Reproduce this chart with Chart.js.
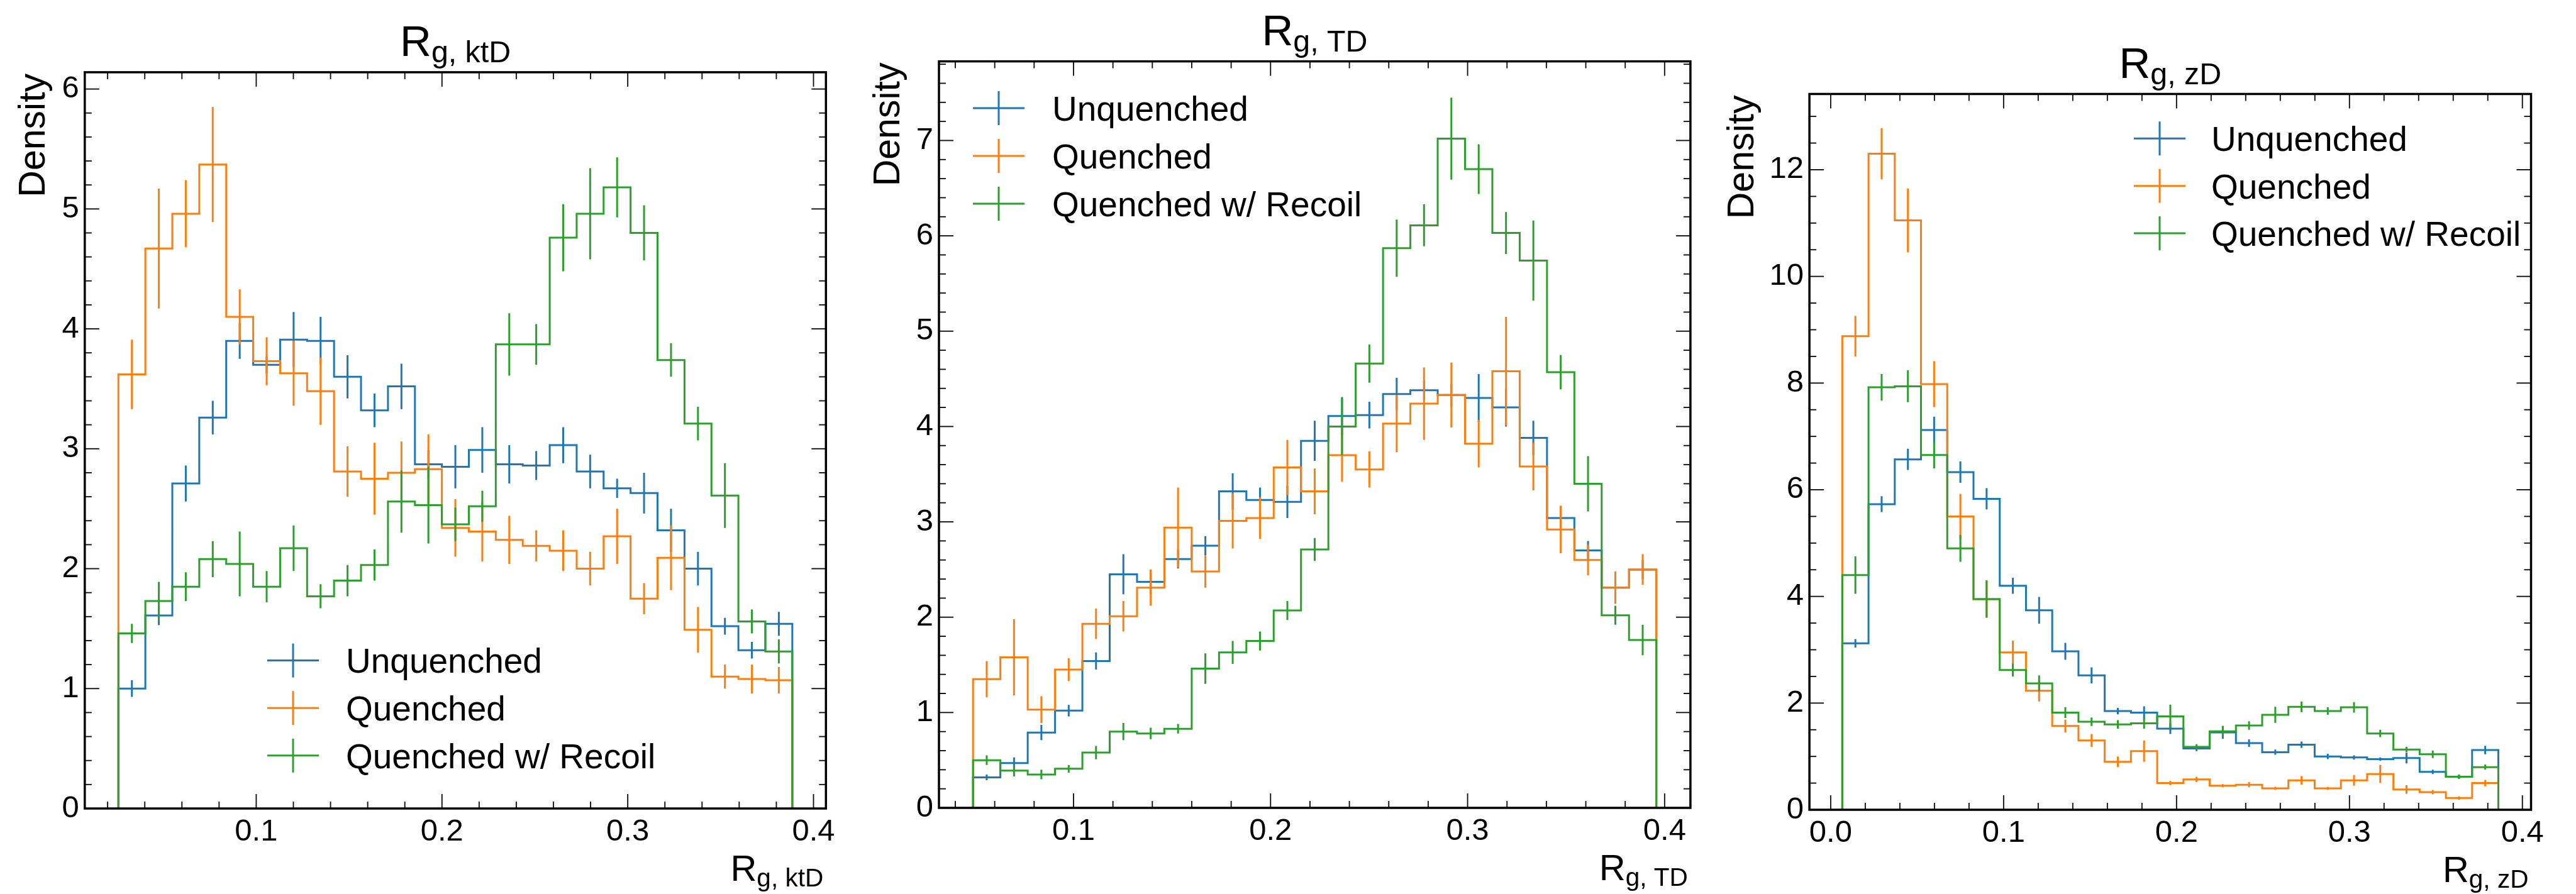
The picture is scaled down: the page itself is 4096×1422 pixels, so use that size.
<!DOCTYPE html>
<html>
<head>
<meta charset="utf-8">
<script src="https://cdn.jsdelivr.net/npm/chart.js@4.4.0/dist/chart.umd.min.js"></script>
<style>
  html, body { margin: 0; padding: 0; background: #fff; }
  body { width: 4096px; height: 1422px; position: relative; overflow: hidden; }
  canvas { position: absolute; left: 0; top: 0; }
</style>
</head>
<body>
<canvas id="ktChart" width="4096" height="1422"></canvas>
<canvas id="tdChart" width="4096" height="1422"></canvas>
<canvas id="zdChart" width="4096" height="1422"></canvas>
<script>
const seriesNames = ['Unquenched', 'Quenched', 'Quenched w/ Recoil']
const seriesColors = ['#1f77b4', '#ff7f0e', '#2ca02c']

// R_g,ktD : 25 bins between the lowest and highest value
const ktRange = [0.0258, 0.3886]
const ktUnq = [1.00, 1.61, 2.71, 3.26, 3.90, 3.70, 3.91, 3.90, 3.60, 3.32, 3.52, 2.87, 2.85, 2.99, 2.87, 2.86, 3.03, 2.81, 2.67, 2.63, 2.32, 2.00, 1.52, 1.32, 1.54]
const ktUnqErr = [0.07, 0.08, 0.15, 0.14, 0.15, 0.07, 0.23, 0.20, 0.18, 0.14, 0.19, 0.12, 0.18, 0.19, 0.16, 0.12, 0.15, 0.14, 0.08, 0.17, 0.18, 0.14, 0.07, 0.07, 0.10]
const ktQ = [3.62, 4.67, 4.96, 5.37, 4.10, 3.73, 3.63, 3.48, 2.81, 2.75, 2.80, 2.83, 2.34, 2.31, 2.24, 2.19, 2.15, 2.00, 2.27, 1.75, 2.09, 1.49, 1.10, 1.08, 1.07]
const ktQErr = [0.29, 0.50, 0.28, 0.48, 0.23, 0.20, 0.27, 0.28, 0.21, 0.30, 0.26, 0.29, 0.24, 0.25, 0.20, 0.13, 0.17, 0.14, 0.23, 0.13, 0.27, 0.19, 0.10, 0.12, 0.11]
const ktRec = [1.46, 1.73, 1.85, 2.08, 2.04, 1.85, 2.17, 1.77, 1.90, 2.03, 2.56, 2.53, 2.37, 2.52, 3.87, 3.87, 4.76, 4.96, 5.18, 4.80, 3.74, 3.21, 2.61, 1.56, 1.31]
const ktRecErr = [0.08, 0.16, 0.12, 0.15, 0.27, 0.13, 0.19, 0.10, 0.13, 0.13, 0.26, 0.32, 0.14, 0.13, 0.26, 0.17, 0.28, 0.38, 0.25, 0.23, 0.14, 0.14, 0.27, 0.10, 0.10]
const ktXTicks = [0.1, 0.2, 0.3, 0.4]
const ktYTicks = [0, 1, 2, 3, 4, 5, 6]

// R_g,TD
const tdRange = [0.049, 0.3958]
const tdUnq = [0.32, 0.47, 0.79, 1.02, 1.54, 2.45, 2.37, 2.61, 2.75, 3.32, 3.23, 3.21, 3.85, 4.11, 4.12, 4.34, 4.38, 4.33, 4.30, 4.20, 3.88, 3.04, 2.70, 2.31, 2.50]
const tdUnqErr = [0.03, 0.06, 0.08, 0.06, 0.09, 0.21, 0.13, 0.10, 0.10, 0.19, 0.13, 0.17, 0.21, 0.20, 0.14, 0.17, 0.10, 0.12, 0.25, 0.20, 0.18, 0.12, 0.10, 0.08, 0.10]
const tdQ = [1.35, 1.58, 1.03, 1.45, 1.93, 2.01, 2.31, 2.94, 2.48, 3.01, 3.04, 3.57, 3.32, 3.70, 3.55, 4.03, 4.24, 4.33, 3.82, 4.58, 3.58, 2.92, 2.60, 2.31, 2.50]
const tdQErr = [0.19, 0.40, 0.14, 0.12, 0.16, 0.16, 0.19, 0.42, 0.17, 0.29, 0.22, 0.29, 0.24, 0.28, 0.19, 0.30, 0.38, 0.34, 0.25, 0.57, 0.25, 0.25, 0.16, 0.17, 0.16]
const tdRec = [0.50, 0.39, 0.35, 0.41, 0.58, 0.80, 0.78, 0.83, 1.46, 1.63, 1.75, 2.07, 2.71, 4.00, 4.66, 5.87, 6.11, 7.02, 6.70, 6.03, 5.74, 4.57, 3.40, 2.02, 1.76]
const tdRecErr = [0.05, 0.06, 0.05, 0.04, 0.07, 0.09, 0.06, 0.05, 0.16, 0.12, 0.10, 0.10, 0.12, 0.30, 0.20, 0.30, 0.22, 0.43, 0.26, 0.22, 0.42, 0.18, 0.29, 0.10, 0.16]
const tdXTicks = [0.1, 0.2, 0.3, 0.4]
const tdYTicks = [0, 1, 2, 3, 4, 5, 6, 7]

// R_g,zD
const zdRange = [0.0067, 0.3861]
const zdUnq = [3.12, 5.73, 6.57, 7.12, 6.33, 5.83, 4.20, 3.74, 2.97, 2.52, 1.85, 1.82, 1.52, 1.15, 1.45, 1.25, 1.08, 1.22, 1.00, 0.98, 0.95, 0.97, 0.71, 0.62, 1.12]
const zdUnqErr = [0.08, 0.15, 0.20, 0.25, 0.20, 0.20, 0.15, 0.25, 0.16, 0.15, 0.06, 0.12, 0.10, 0.05, 0.12, 0.07, 0.05, 0.06, 0.05, 0.04, 0.03, 0.10, 0.04, 0.04, 0.08]
const zdQ = [8.88, 12.30, 11.05, 7.98, 5.50, 3.95, 2.95, 2.23, 1.57, 1.30, 0.90, 1.10, 0.50, 0.57, 0.45, 0.47, 0.40, 0.55, 0.40, 0.55, 0.67, 0.38, 0.33, 0.22, 0.50]
const zdQErr = [0.38, 0.48, 0.60, 0.43, 0.42, 0.35, 0.22, 0.20, 0.12, 0.12, 0.10, 0.20, 0.04, 0.05, 0.03, 0.05, 0.03, 0.08, 0.03, 0.10, 0.17, 0.08, 0.04, 0.03, 0.06]
const zdRec = [4.40, 7.92, 7.94, 6.65, 4.90, 3.95, 2.62, 2.37, 1.82, 1.65, 1.60, 1.62, 1.75, 1.18, 1.47, 1.58, 1.78, 1.93, 1.85, 1.92, 1.43, 1.13, 1.04, 0.62, 0.80]
const zdRecErr = [0.35, 0.25, 0.30, 0.25, 0.25, 0.35, 0.12, 0.15, 0.10, 0.08, 0.08, 0.10, 0.22, 0.05, 0.10, 0.08, 0.15, 0.10, 0.07, 0.10, 0.07, 0.05, 0.07, 0.04, 0.05]
const zdXTicks = [0.0, 0.1, 0.2, 0.3, 0.4]
const zdYTicks = [0, 2, 4, 6, 8, 10, 12]

const FONT = '"Liberation Sans", Arial, sans-serif'
Chart.defaults.font.family = FONT
Chart.defaults.color = '#000'

const AXIS_W = 80   // room left for y tick labels
const AXIS_H = 80   // room below for x tick labels

const panels = [
    {
        canvas: 'ktChart', range: ktRange,
        series: [ktUnq, ktQ, ktRec], errors: [ktUnqErr, ktQErr, ktRecErr],
        xTicks: ktXTicks, yTicks: ktYTicks, xMinor: 0.02, yMinor: 0.2,
        xLim: [0.0077, 0.4067], yMax: 6.14,
        sub: 'g, ktD',
        frame: { left: 134.8, right: 1313.3, top: 114.9, bottom: 1286 },
        yLabelX: 70.8,
        legend: { x0: 425, x1: 507, tx: 550, y0: 1050.6, dy: 75.6 }
    },
    {
        canvas: 'tdChart', range: tdRange,
        series: [tdUnq, tdQ, tdRec], errors: [tdUnqErr, tdQErr, tdRecErr],
        xTicks: tdXTicks, yTicks: tdYTicks, xMinor: 0.02, yMinor: 0.2,
        xLim: [0.0317, 0.4131], yMax: 7.83,
        sub: 'g, TD',
        frame: { left: 1493.0, right: 2687.9, top: 97.6, bottom: 1285 },
        yLabelX: 1429.9,
        legend: { x0: 1547, x1: 1629, tx: 1673, y0: 172, dy: 76 }
    },
    {
        canvas: 'zdChart', range: zdRange,
        series: [zdUnq, zdQ, zdRec], errors: [zdUnqErr, zdQErr, zdRecErr],
        xTicks: zdXTicks, yTicks: zdYTicks, xMinor: 0.02, yMinor: 0.5,
        xLim: [-0.0123, 0.4050], yMax: 13.42,
        sub: 'g, zD',
        frame: { left: 2877.1, right: 4024.5, top: 149.5, bottom: 1288 },
        yLabelX: 2788.1,
        legend: { x0: 3393, x1: 3475, tx: 3516, y0: 220.3, dy: 75.4 }
    }
]

// histogram outline: up from 0 at the first edge, down to 0 at the last one
function stepPoints(range, vals) {
    const w = (range[1] - range[0]) / vals.length
    let pts = [{ x: range[0], y: 0 }]
    vals.forEach(function (v, i) {
        pts.push({ x: range[0] + i * w, y: v })
        pts.push({ x: range[0] + (i + 1) * w, y: v })
    })
    pts.push({ x: range[1], y: 0 })
    return pts
}

// vertical error bars at bin centres, separated by gaps
function errPoints(range, vals, errs) {
    const w = (range[1] - range[0]) / vals.length
    let pts = []
    vals.forEach(function (v, i) {
        const c = range[0] + (i + 0.5) * w
        pts.push({ x: c, y: v - errs[i] }, { x: c, y: v + errs[i] }, { x: c, y: null })
    })
    return pts
}

function minorValues(min, max, step) {
    let out = []
    for (let k = Math.ceil(min / step - 1e-9); k * step <= max + 1e-9; k++) out.push(k * step)
    return out
}

function drawSubText(ctx, sub, x, y, size, align) {
    ctx.font = size + 'px ' + FONT
    const w1 = ctx.measureText('R').width
    ctx.font = (size * 0.7) + 'px ' + FONT
    const w2 = ctx.measureText(sub).width
    const x0 = align === 'center' ? x - (w1 + w2) / 2 : x - (w1 + w2)
    ctx.textAlign = 'left'
    ctx.textBaseline = 'alphabetic'
    ctx.font = size + 'px ' + FONT
    ctx.fillText('R', x0, y)
    ctx.font = (size * 0.7) + 'px ' + FONT
    ctx.fillText(sub, x0 + w1, y + size * 0.15)
}

function decoPlugin(p) {
    return {
        id: 'deco',
        afterDraw: function (chart) {
            const ctx = chart.ctx
            const a = chart.chartArea
            const xs = chart.scales.x
            const ys = chart.scales.y
            ctx.save()
            ctx.strokeStyle = '#111'
            ctx.lineCap = 'butt'

            function seg(x1, y1, x2, y2) {
                ctx.beginPath()
                ctx.moveTo(x1, y1)
                ctx.lineTo(x2, y2)
                ctx.stroke()
            }

            // inward ticks on all four sides
            ctx.lineWidth = 1.9
            const xMajor = p.xTicks
            const yMajor = p.yTicks
            minorValues(p.xLim[0], p.xLim[1], p.xMinor).forEach(function (v) {
                const major = xMajor.some(m => Math.abs(m - v) < 1e-6)
                const len = major ? 23 : 11
                const px = xs.getPixelForValue(v)
                seg(px, a.bottom, px, a.bottom - len)
                seg(px, a.top, px, a.top + len)
            })
            minorValues(0, p.yMax, p.yMinor).forEach(function (v) {
                const major = yMajor.some(m => Math.abs(m - v) < 1e-6)
                const len = major ? 23 : 11
                const py = ys.getPixelForValue(v)
                seg(a.left, py, a.left + len, py)
                seg(a.right, py, a.right - len, py)
            })

            ctx.lineWidth = 3.5
            ctx.strokeStyle = '#000'
            ctx.strokeRect(a.left, a.top, a.right - a.left, a.bottom - a.top)

            ctx.fillStyle = '#000'
            // title
            drawSubText(ctx, p.sub, (a.left + a.right) / 2, a.top - 26, 69, 'center')
            // x label, right aligned to the frame
            drawSubText(ctx, p.sub, a.right - 4, a.bottom + 115, 58, 'right')
            // y label, top aligned to the frame
            ctx.save()
            ctx.translate(p.yLabelX, a.top + 2)
            ctx.rotate(-Math.PI / 2)
            ctx.font = '59px ' + FONT
            ctx.textAlign = 'right'
            ctx.textBaseline = 'alphabetic'
            ctx.fillText('Density', 0, 0)
            ctx.restore()

            // legend
            const lg = p.legend
            seriesNames.forEach(function (name, i) {
                const cy = lg.y0 + i * lg.dy
                const cx = (lg.x0 + lg.x1) / 2
                ctx.strokeStyle = seriesColors[i]
                ctx.lineWidth = 3
                seg(lg.x0, cy, lg.x1, cy)
                seg(cx, cy - 27, cx, cy + 27)
                ctx.fillStyle = '#000'
                ctx.font = '55px ' + FONT
                ctx.textAlign = 'left'
                ctx.textBaseline = 'alphabetic'
                ctx.fillText(name, lg.tx, cy + 55 * 0.36)
            })
            ctx.restore()
        }
    }
}

panels.forEach(function (p) {
    let datasets = []
    p.series.forEach(function (vals, i) {
        const order = 2 - i  // green ends up on top
        datasets.push({
            label: seriesNames[i],
            data: stepPoints(p.range, vals),
            borderColor: seriesColors[i],
            borderWidth: 3,
            borderJoinStyle: 'miter',
            pointRadius: 0,
            fill: false,
            order: order
        })
        datasets.push({
            label: seriesNames[i] + ' err',
            data: errPoints(p.range, vals, p.errors[i]),
            borderColor: seriesColors[i],
            borderWidth: 3,
            borderCapStyle: 'butt',
            pointRadius: 0,
            fill: false,
            spanGaps: false,
            order: order
        })
    })

    const f = p.frame
    new Chart(document.getElementById(p.canvas), {
        type: 'line',
        data: { datasets: datasets },
        options: {
            responsive: false,
            animation: false,
            events: [],
            layout: {
                padding: {
                    left: f.left - AXIS_W,
                    right: 4096 - f.right,
                    top: f.top,
                    bottom: 1422 - f.bottom - AXIS_H
                }
            },
            plugins: {
                legend: { display: false },
                tooltip: { enabled: false },
                title: { display: false }
            },
            scales: {
                x: {
                    type: 'linear',
                    position: 'bottom',
                    min: p.xLim[0],
                    max: p.xLim[1],
                    grid: { display: false, drawTicks: false },
                    border: { display: false },
                    ticks: {
                        autoSkip: false,
                        maxRotation: 0,
                        padding: 8,
                        font: { size: 49 },
                        color: '#000',
                        callback: function (v) { return v.toFixed(1) }
                    },
                    afterBuildTicks: function (axis) {
                        axis.ticks = p.xTicks.map(v => ({ value: v }))
                    },
                    afterFit: function (axis) { axis.height = AXIS_H }
                },
                y: {
                    type: 'linear',
                    position: 'left',
                    min: 0,
                    max: p.yMax,
                    grid: { display: false, drawTicks: false },
                    border: { display: false },
                    ticks: {
                        autoSkip: false,
                        padding: 9,
                        font: { size: 49 },
                        color: '#000',
                        callback: function (v) { return String(v) }
                    },
                    afterBuildTicks: function (axis) {
                        axis.ticks = p.yTicks.map(v => ({ value: v }))
                    },
                    afterFit: function (axis) { axis.width = AXIS_W }
                }
            }
        },
        plugins: [decoPlugin(p)]
    })
})
</script>
</body>
</html>
